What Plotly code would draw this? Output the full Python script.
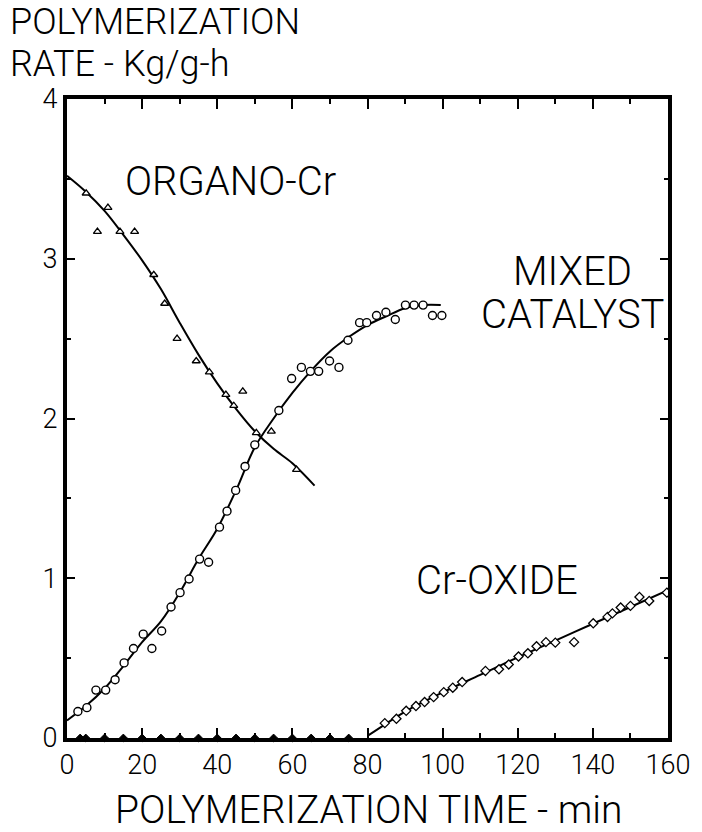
import plotly.graph_objects as go

# ---------------- data ----------------
organo_x = [5.1, 8.1, 10.9, 14.1, 18.0, 23.1, 26.0, 29.3, 34.4, 37.9, 42.3, 44.4, 46.8, 50.4, 54.4, 61.1]
organo_y = [3.41, 3.17, 3.32, 3.17, 3.17, 2.90, 2.72, 2.50, 2.36, 2.29, 2.15, 2.08, 2.17, 1.91, 1.92, 1.68]
organo_fit_x = [0, 5, 10, 15, 20, 25, 30, 35, 40, 45, 50, 55, 60, 65.9]
organo_fit_y = [3.52, 3.42, 3.30, 3.15, 2.99, 2.81, 2.60, 2.40, 2.22, 2.06, 1.92, 1.81, 1.72, 1.58]

mixed_x = [2.9, 5.3, 7.7, 10.3, 12.8, 15.2, 17.7, 20.3, 22.6, 25.2, 27.7, 30.1, 32.5, 35.3, 37.7,
           40.6, 42.6, 44.9, 47.4, 50.0, 56.4, 59.8, 62.4, 64.8, 67.0, 69.9, 72.4, 74.8, 77.9,
           79.8, 82.4, 84.9, 87.4, 90.1, 92.4, 94.8, 97.3, 99.8]
mixed_y = [0.166, 0.19, 0.30, 0.30, 0.365, 0.47, 0.56, 0.65, 0.56, 0.67, 0.82, 0.91, 0.995, 1.12, 1.10,
           1.32, 1.42, 1.55, 1.70, 1.835, 2.05, 2.25, 2.32, 2.295, 2.295, 2.36, 2.32, 2.49, 2.60,
           2.60, 2.645, 2.665, 2.62, 2.71, 2.71, 2.71, 2.645, 2.645]
mixed_fit_x = [0, 5, 10, 15, 20, 25, 30, 35, 40, 45, 50, 55, 60, 65, 70, 75, 80, 85, 90, 95, 99.5]
mixed_fit_y = [0.11, 0.20, 0.31, 0.45, 0.60, 0.73, 0.91, 1.12, 1.31, 1.55, 1.82, 2.00, 2.16, 2.30,
               2.42, 2.51, 2.585, 2.64, 2.69, 2.71, 2.71]

oxide_x = [84.6, 87.7, 90.3, 92.9, 95.2, 97.6, 100.3, 102.7, 105.2, 111.4, 115.0, 117.6, 120.2,
           122.7, 125.0, 127.5, 130.0, 135.0, 140.1, 143.9, 145.2, 147.4, 150.0, 152.4, 155.0, 159.7]
oxide_y = [0.093, 0.12, 0.17, 0.20, 0.225, 0.256, 0.287, 0.315, 0.35, 0.42, 0.43, 0.46, 0.51,
           0.53, 0.574, 0.60, 0.597, 0.60, 0.718, 0.758, 0.78, 0.817, 0.827, 0.883, 0.858, 0.91]
oxide_zero_x = [3.5, 5, 10, 15, 20, 25, 30, 35, 40, 45, 50, 55, 60, 65, 70, 75]
oxide_zero_y = [0] * len(oxide_zero_x)
oxide_fit_x = [80.2, 85, 90, 100, 110, 120, 130, 140, 150, 160]
oxide_fit_y = [0.016, 0.09, 0.165, 0.285, 0.395, 0.505, 0.61, 0.715, 0.82, 0.925]

x_ticks = [0, 20, 40, 60, 80, 100, 120, 140, 160]
y_ticks = [0, 1, 2, 3, 4]

FONT = "Roboto, Lato, Liberation Sans, sans-serif"

# ---------------- figure ----------------
W, H = 702, 832
L, R, T, B = 67, 13, 99, 94
PW, PH = W - L - R, H - T - B


def px(xp):
    return (xp - L) / PW


def py(yp):
    return (H - B - yp) / PH


def dx(xp):
    return (xp - L) / PW * 160


def dy(yp):
    return (H - B - yp) / PH * 4


fig = go.Figure()
line_style = dict(color="black", width=2)
fig.add_trace(go.Scatter(x=organo_fit_x, y=organo_fit_y, mode="lines", line=dict(shape="spline", **line_style), hoverinfo="skip"))
fig.add_trace(go.Scatter(x=mixed_fit_x, y=mixed_fit_y, mode="lines", line=dict(shape="spline", **line_style), hoverinfo="skip"))
fig.add_trace(go.Scatter(x=oxide_fit_x, y=oxide_fit_y, mode="lines", line=dict(shape="spline", **line_style), hoverinfo="skip"))

fig.add_trace(go.Scatter(x=organo_x, y=organo_y, mode="markers", name="ORGANO-Cr",
                         marker=dict(symbol="triangle-up", size=7, color="white", line=dict(color="black", width=1.3))))
fig.add_trace(go.Scatter(x=mixed_x, y=mixed_y, mode="markers", name="MIXED CATALYST",
                         marker=dict(symbol="circle", size=8, color="white", line=dict(color="black", width=1.4))))
fig.add_trace(go.Scatter(x=oxide_x, y=oxide_y, mode="markers", name="Cr-OXIDE",
                         marker=dict(symbol="diamond", size=7, color="white", line=dict(color="black", width=1.3))))
fig.add_trace(go.Scatter(x=oxide_zero_x, y=oxide_zero_y, mode="markers", name="Cr-OXIDE zero",
                         marker=dict(symbol="diamond", size=6, color="black", line=dict(color="black", width=1)),
                         cliponaxis=False))

axis_common = dict(showline=True, linewidth=4, linecolor="black", mirror="ticks",
                   ticks="inside", tickcolor="black", tickwidth=1.5,
                   showgrid=False, zeroline=False, ticklabeloverflow="allow",
                   tickfont=dict(family=FONT, size=27, color="black", weight=300))

fig.update_xaxes(range=[0, 160], tickvals=x_ticks, ticklen=10,
                 minor=dict(dtick=10, ticklen=5, ticks="inside", tickcolor="black", tickwidth=1.5),
                 **axis_common)
fig.update_yaxes(range=[0, 4], tickvals=y_ticks, ticklen=8,
                 minor=dict(dtick=0.5, ticklen=4, ticks="inside", tickcolor="black", tickwidth=1.5),
                 **axis_common)

tf = dict(family=FONT, size=36, color="black", weight=300)
tf2 = dict(family=FONT, size=40, color="black", weight=300)
ann = [
    dict(text="POLYMERIZATION", x=px(6), y=py(22), xref="paper", yref="paper",
         xanchor="left", yanchor="middle", showarrow=False, font=tf),
    dict(text="RATE - Kg/g-h", x=px(6), y=py(64), xref="paper", yref="paper",
         xanchor="left", yanchor="middle", showarrow=False, font=tf),
    dict(text="POLYMERIZATION TIME - min", x=px(380), y=py(810), xref="paper", yref="paper",
         xanchor="center", yanchor="middle", showarrow=False, font=dict(tf, size=39)),
    dict(text="ORGANO-Cr", x=dx(236), y=dy(181), xref="x", yref="y",
         xanchor="center", yanchor="middle", showarrow=False, font=tf2),
    dict(text="MIXED", x=dx(590), y=dy(271), xref="x", yref="y",
         xanchor="center", yanchor="middle", showarrow=False, font=tf2),
    dict(text="CATALYST", x=dx(590), y=dy(314), xref="x", yref="y",
         xanchor="center", yanchor="middle", showarrow=False, font=tf2),
    dict(text="Cr-OXIDE", x=dx(512), y=dy(580), xref="x", yref="y",
         xanchor="center", yanchor="middle", showarrow=False, font=tf2),
]

fig.update_layout(width=W, height=H, margin=dict(l=L, r=R, t=T, b=B),
                  paper_bgcolor="white", plot_bgcolor="white", showlegend=False,
                  annotations=ann, font=dict(family=FONT, color="black"))

fig.write_html("out.html")
